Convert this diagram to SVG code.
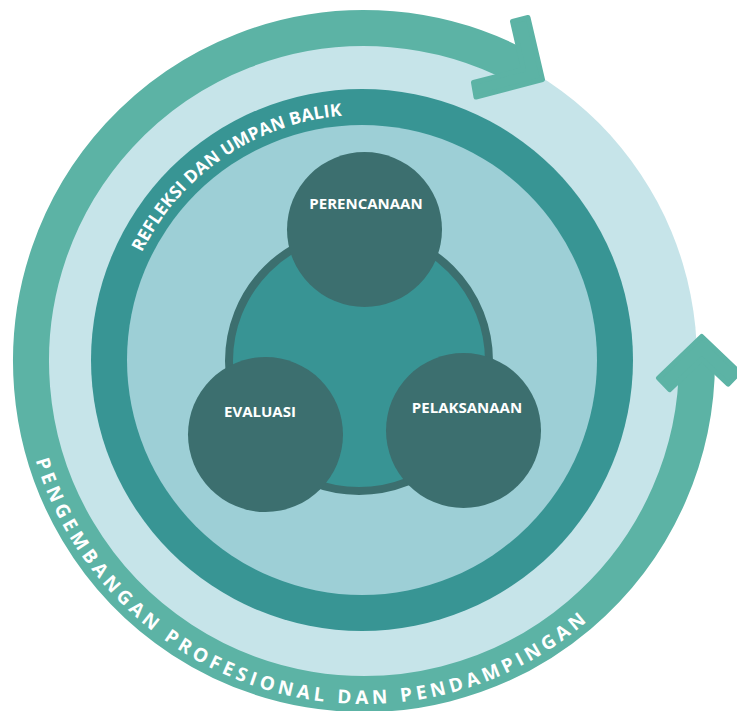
<svg xmlns="http://www.w3.org/2000/svg" width="737" height="711" viewBox="0 0 737 711">
<style>
.lbl{font-family:"Open Sans","Noto Sans","Liberation Sans",sans-serif;font-weight:700;fill:#ffffff;text-anchor:middle}
.node{fill:#3c6f6f}
.arrow{fill:#5cb3a5;stroke:#5cb3a5;stroke-width:5;stroke-linejoin:round}
.band{fill:none;stroke:#5cb3a5;stroke-width:36}
</style>
<defs>
<path id="pRefl" d="M117,360 A245,245 0 0 1 607,360"/>
<path id="pOuter" d="M21,361 A343,343 0 0 0 707,361"/>
</defs>
<rect width="737" height="711" fill="#ffffff"/>
<g id="background">
<circle cx="362" cy="360" r="335" fill="#c6e4e9"/>
</g>
<g id="connectors">
<path class="band" d="M697,361 A333,333 0 1 1 522.9,68.4"/>
<polygon class="arrow" points="528,17.5 542.5,79.5 476,97 473.5,82.5 523.5,69.5 512.5,21.5"/>
<polygon class="arrow" points="701.7,336.5 739.3,372.5 728.2,384.1 701.7,359.1 669.6,389.6 658.5,378.1"/>
<text class="lbl" font-size="19" letter-spacing="4.2"><textPath href="#pOuter" startOffset="443">PENGEMBANGAN PROFESIONAL DAN PENDAMPINGAN</textPath></text>
</g>
<g id="feedback-ring">
<circle cx="362" cy="360" r="271" fill="#389594"/>
<circle cx="362" cy="360" r="235" fill="#9dcfd6"/>
<text class="lbl" font-size="17.5" letter-spacing="0.2"><textPath href="#pRefl" startOffset="238">REFLEKSI DAN UMPAN BALIK</textPath></text>
</g>
<g id="core">
<circle cx="359" cy="361" r="130" fill="#389494" stroke="#3c6f6f" stroke-width="8"/>
</g>
<g id="node-perencanaan">
<circle class="node" cx="364.5" cy="229.5" r="77.5"/>
<text class="lbl" x="366" y="209" font-size="15">PERENCANAAN</text>
</g>
<g id="node-evaluasi">
<circle class="node" cx="265.5" cy="434.5" r="77.5"/>
<text class="lbl" x="260" y="417" font-size="15">EVALUASI</text>
</g>
<g id="node-pelaksanaan">
<circle class="node" cx="463.5" cy="430.5" r="77.5"/>
<text class="lbl" x="467" y="413" font-size="15">PELAKSANAAN</text>
</g>
</svg>
